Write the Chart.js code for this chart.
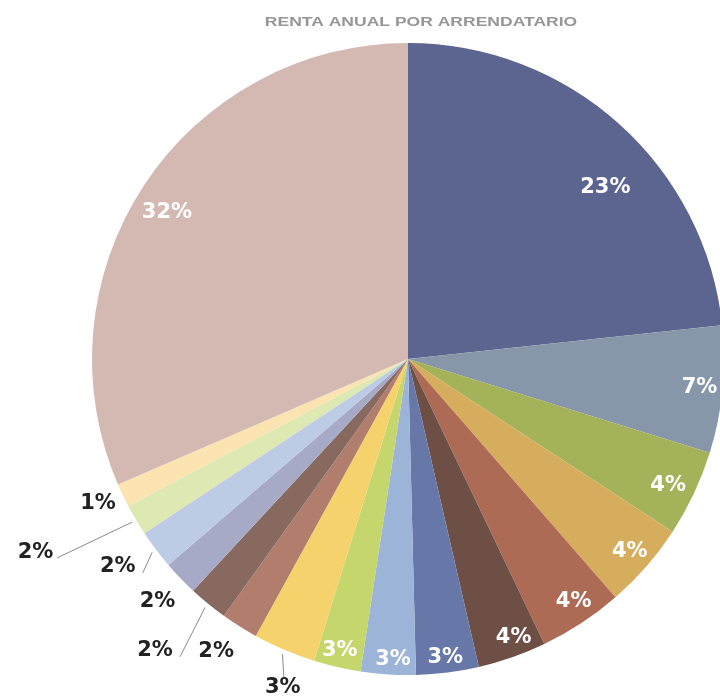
<!DOCTYPE html>
<html>
<head>
<meta charset="utf-8">
<script src="https://cdn.jsdelivr.net/npm/chart.js@4/dist/chart.umd.min.js"></script>
<style>
html,body{margin:0;padding:0;background:#fff;overflow:hidden;}
#wrap{position:absolute;left:0;top:0;width:740px;height:698px;}
</style>
</head>
<body>
<div id="wrap"><canvas id="c" width="740" height="698"></canvas></div>
<script>
const chartTitle = 'RENTA ANUAL POR ARRENDATARIO';
const categories = ['Arrendatario 1','Arrendatario 2','Arrendatario 3','Arrendatario 4','Arrendatario 5','Arrendatario 6','Arrendatario 7','Arrendatario 8','Arrendatario 9','Arrendatario 10','Arrendatario 11','Arrendatario 12','Arrendatario 13','Arrendatario 14','Arrendatario 15','Arrendatario 16','Resto'];
const values = [23.3, 6.5, 4.4, 4.4, 4.3, 3.5, 3.2, 2.8, 2.4, 3.2, 1.9, 2.0, 1.8, 2.0, 1.6, 1.2, 31.5];
const pctLabels = ['23%','7%','4%','4%','4%','4%','3%','3%','3%','3%','2%','2%','2%','2%','2%','1%','32%'];

const colors = ['#5c6590','#8796a9','#a4b35a','#d6ad5c','#ad6b55','#6e4f45','#6777a8','#9cb4d8','#c5d76c','#f6d26c','#b17d6c','#87695f','#a6aac6','#bdcbe4','#dde8b3','#fbe3b2','#d4b9b2'];
// label layout: [radius factor, angle offset (deg), inside?, leader end radius factor (0 = none), leader end angle offset]
const labelLayout = [
  [0.828, 7.0, true, 0, 0],
  [0.927, 0.0, true, 0, 0],
  [0.915, 0.7, true, 0, 0],
  [0.929, -0.1, true, 0, 0],
  [0.930, -1.0, true, 0, 0],
  [0.943, -1.5, true, 0, 0],
  [0.953, 0.1, true, 0, 0],
  [0.953, -0.75, true, 0, 0],
  [0.949, 0.2, true, 0, 0],
  [1.114, -2.2, false, 1.084, -1.8],
  [1.108, 1.0, false, 0, 0],
  [1.222, 1.7, false, 1.187, -1.8],
  [1.104, -0.2, false, 0, 0],
  [1.130, 1.45, false, 1.078, -1.8],
  [1.329, 3.1, false, 1.277, 1.05],
  [1.082, 0.6, false, 0, 0],
  [0.892, -2.1, true, 0, 0]
];

const labelPlugin = {
  id: 'pctLabels',
  afterDatasetsDraw(chart) {
    const ctx = chart.ctx;
    const meta = chart.getDatasetMeta(0);
    ctx.save();
    meta.data.forEach((arc, i) => {
      const p = arc.getProps(['x','y','startAngle','endAngle','outerRadius'], true);
      const mid = (p.startAngle + p.endAngle) / 2;
      const L = labelLayout[i];
      const a = mid + L[1] * Math.PI / 180;
      const lx = p.x + Math.cos(a) * p.outerRadius * L[0];
      const ly = p.y + Math.sin(a) * p.outerRadius * L[0];
      if (L[3] > 0) {
        const a2 = mid + L[4] * Math.PI / 180;
        ctx.beginPath();
        ctx.strokeStyle = '#8a8a8a';
        ctx.lineWidth = 1;
        ctx.moveTo(p.x + Math.cos(mid) * p.outerRadius * 1.015, p.y + Math.sin(mid) * p.outerRadius * 1.015);
        ctx.lineTo(p.x + Math.cos(a2) * p.outerRadius * L[3], p.y + Math.sin(a2) * p.outerRadius * L[3]);
        ctx.stroke();
      }
      ctx.font = 'bold 21px "DejaVu Sans"';
      ctx.textAlign = 'center';
      ctx.textBaseline = 'middle';
      ctx.fillStyle = L[2] ? '#ffffff' : '#222222';
      ctx.fillText(pctLabels[i], lx, ly);
    });
    // title
    ctx.font = 'bold 12px "Liberation Sans"';
    ctx.fillStyle = '#969696';
    ctx.textAlign = 'center';
    ctx.textBaseline = 'middle';
    ctx.translate(421, 23);
    ctx.scale(1.46, 1);
    ctx.fillText(chartTitle, 0, 0);
    ctx.restore();
  }
};

new Chart(document.getElementById('c'), {
  type: 'pie',
  data: {
    labels: categories,
    datasets: [{
      data: values,
      backgroundColor: colors,
      borderWidth: 0
    }]
  },
  options: {
    responsive: false,
    animation: false,
    layout: { padding: { top: 43, bottom: 23, left: 92, right: 16 } },
    plugins: {
      legend: { display: false },
      tooltip: { enabled: false },
      title: { display: false }
    }
  },
  plugins: [labelPlugin]
});
</script>
</body>
</html>
